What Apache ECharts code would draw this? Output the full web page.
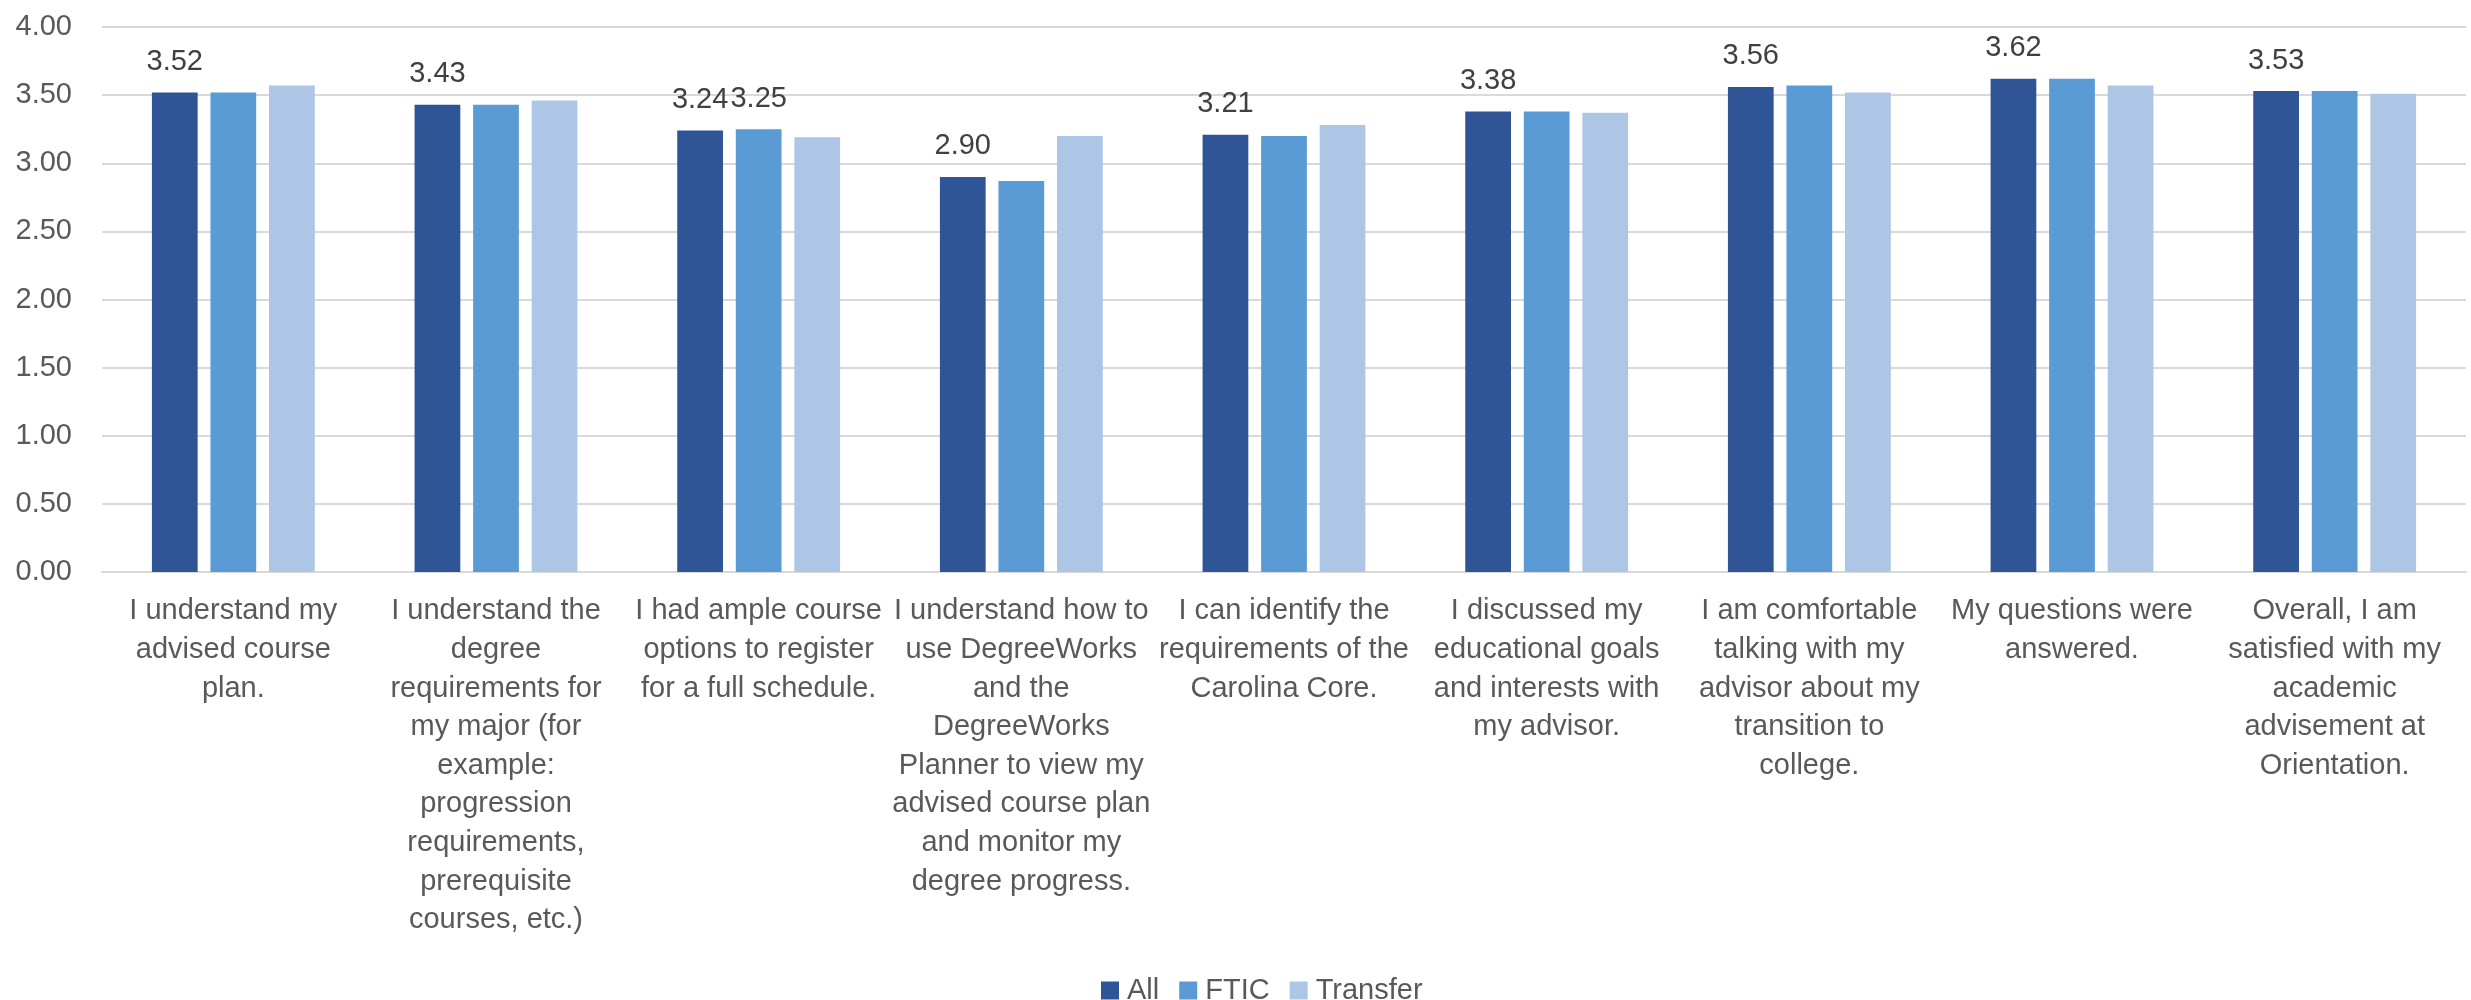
<!DOCTYPE html>
<html>
<head>
<meta charset="utf-8">
<script src="https://cdn.jsdelivr.net/npm/echarts@6/dist/echarts.min.js"></script>
<style>html,body{margin:0;padding:0;background:#fff}#c{width:2471px;height:1000px}</style>
</head>
<body>
<div id="c"></div>
<script>
const categories = [
  "I understand my\nadvised course\nplan.",
  "I understand the\ndegree\nrequirements for\nmy major (for\nexample:\nprogression\nrequirements,\nprerequisite\ncourses, etc.)",
  "I had ample course\noptions to register\nfor a full schedule.",
  "I understand how to\nuse DegreeWorks\nand the\nDegreeWorks\nPlanner to view my\nadvised course plan\nand monitor my\ndegree progress.",
  "I can identify the\nrequirements of the\nCarolina Core.",
  "I discussed my\neducational goals\nand interests with\nmy advisor.",
  "I am comfortable\ntalking with my\nadvisor about my\ntransition to\ncollege.",
  "My questions were\nanswered.",
  "Overall, I am\nsatisfied with my\nacademic\nadvisement at\nOrientation."
];
const seriesNames = ["All", "FTIC", "Transfer"];
const allValues = [3.52, 3.43, 3.24, 2.90, 3.21, 3.38, 3.56, 3.62, 3.53];
const fticValues = [3.52, 3.43, 3.25, 2.87, 3.20, 3.38, 3.57, 3.62, 3.53];
const transferValues = [3.57, 3.46, 3.19, 3.20, 3.28, 3.37, 3.52, 3.57, 3.51];
const fticLabeledIndex = [2];
const yTicks = { min: 0, max: 4, interval: 0.5 };

const FONT = "'Liberation Sans', Arial, sans-serif";
const FS = 29;
const colors = ["#2F5597", "#5B9BD5", "#ADC6E6"];

const labelStyle = {
  show: true, position: 'top', distance: 16,
  fontFamily: FONT, fontSize: FS, color: '#404040',
  formatter: p => Number(p.value).toFixed(2)
};

const chart = echarts.init(document.getElementById('c'), null, { renderer: 'canvas' });
chart.setOption({
  animation: false,
  backgroundColor: '#fff',
  color: colors,
  textStyle: { fontFamily: FONT },
  grid: { left: 102, right: 5, top: 27, bottom: 428, containLabel: false },
  legend: {
    data: seriesNames,
    top: 971, left: 1096,
    itemWidth: 18, itemHeight: 18, itemGap: 20,
    icon: 'rect',
    textStyle: { fontFamily: FONT, fontSize: FS, color: '#595959', padding: [0, 0, 0, 3] }
  },
  xAxis: {
    type: 'category',
    data: categories,
    axisLine: { lineStyle: { color: '#D9D9D9', width: 2 } },
    axisTick: { show: false },
    axisLabel: {
      interval: 0, margin: 20,
      fontFamily: FONT, fontSize: FS, lineHeight: 38.6, color: '#595959', align: 'center'
    }
  },
  yAxis: {
    type: 'value',
    min: yTicks.min, max: yTicks.max, interval: yTicks.interval,
    axisLine: { show: false },
    axisTick: { show: false },
    splitLine: { lineStyle: { color: '#D9D9D9', width: 2 } },
    axisLabel: {
      margin: 30, fontFamily: FONT, fontSize: FS, color: '#595959',
      formatter: v => v.toFixed(2)
    }
  },
  series: [
    {
      name: seriesNames[0], type: 'bar', data: allValues,
      barGap: '28%', barCategoryGap: '38%',
      label: labelStyle
    },
    {
      name: seriesNames[1], type: 'bar',
      data: fticValues.map((v, i) => fticLabeledIndex.includes(i) ? { value: v, label: labelStyle } : v),
      barGap: '28%', barCategoryGap: '38%'
    },
    {
      name: seriesNames[2], type: 'bar', data: transferValues,
      barGap: '28%', barCategoryGap: '38%'
    }
  ]
});
</script>
</body>
</html>
